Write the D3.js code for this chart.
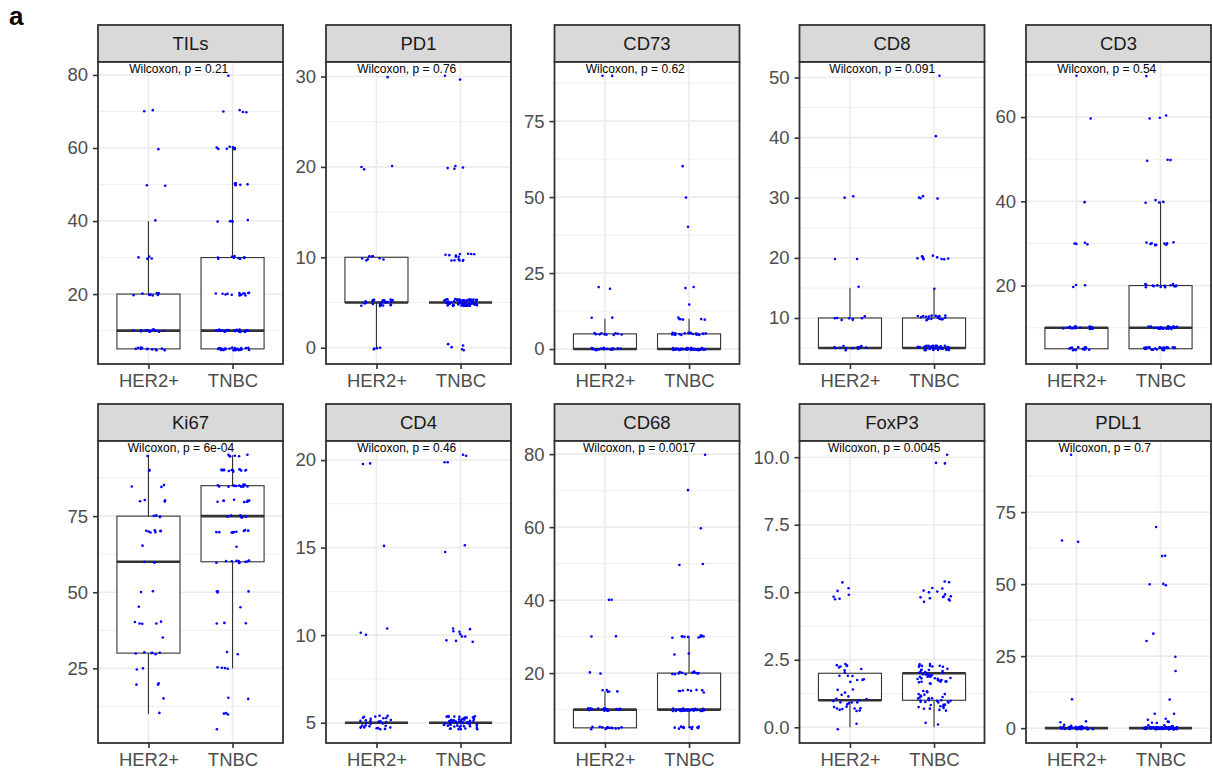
<!DOCTYPE html>
<html>
<head>
<meta charset="utf-8">
<script src="https://cdn.jsdelivr.net/npm/d3@7"></script>
<style>
  body { margin: 0; background: #fff; }
  svg { display: block; font-family: "Liberation Sans", Arial, sans-serif; }
</style>
</head>
<body>
<script>
var markers = ['TILs', 'PD1', 'CD73', 'CD8', 'CD3', 'Ki67', 'CD4', 'CD68', 'FoxP3', 'PDL1'];
var groups = ['HER2+', 'TNBC'];
var pValues = ['0.21', '0.76', '0.62', '0.091', '0.54', '6e-04', '0.46', '0.0017', '0.0045', '0.7'];

// each row: [score, number of HER2+ cases, number of TNBC cases]
var countsTILs = [[5, 12, 28], [10, 12, 26], [20, 8, 14], [30, 4, 9], [40, 1, 5], [50, 2, 6], [60, 1, 7], [70, 2, 4], [80, 0, 1]];
var countsPD1 = [[0, 4, 5], [5, 25, 70], [10, 8, 15], [20, 3, 4], [30, 1, 2]];
var countsCD73 = [[0, 17, 36], [5, 10, 22], [10, 2, 6], [15, 0, 1], [20, 2, 2], [40, 0, 1], [50, 0, 1], [60, 0, 1], [90, 2, 0]];
var countsCD8 = [[5, 15, 38], [10, 8, 20], [15, 1, 1], [20, 2, 10], [30, 2, 4], [40, 0, 1], [50, 0, 1]];
var countsCD3 = [[5, 14, 25], [10, 18, 25], [20, 3, 14], [30, 4, 10], [40, 1, 4], [50, 0, 3], [60, 1, 3], [70, 1, 1]];
var countsKi67 = [[5, 0, 1], [10, 1, 3], [15, 1, 2], [20, 3, 0], [25, 2, 4], [30, 6, 2], [35, 1, 0], [40, 5, 3], [45, 1, 1],
  [50, 2, 4], [60, 3, 10], [65, 1, 1], [70, 7, 10], [75, 4, 8], [80, 4, 9], [85, 3, 12], [90, 2, 13], [95, 1, 6]];
var countsCD4 = [[5, 30, 55], [10, 3, 10], [15, 1, 2], [20, 2, 4]];
var countsCD68 = [[5, 14, 12], [10, 20, 28], [15, 5, 8], [20, 2, 12], [25, 0, 2], [30, 2, 10], [40, 2, 0], [50, 0, 2], [60, 0, 1], [70, 0, 1], [80, 0, 1]];
var countsFoxP3 = [[0, 2, 2], [1, 23, 35], [2, 16, 45], [5, 7, 16], [10, 0, 3]];
var countsPDL1 = [[0, 30, 72], [1, 3, 4], [2, 2, 4], [3, 0, 2], [5, 0, 2], [10, 1, 1], [20, 0, 1], [25, 0, 1], [30, 0, 1], [33, 0, 1],
  [50, 0, 3], [60, 0, 2], [65, 2, 0], [70, 0, 1], [95, 1, 0]];

var countTables = [countsTILs, countsPD1, countsCD73, countsCD8, countsCD3, countsKi67, countsCD4, countsCD68, countsFoxP3, countsPDL1];

var yTicks = [[20, 40, 60, 80], [0, 10, 20, 30], [0, 25, 50, 75], [10, 20, 30, 40, 50], [20, 40, 60],
  [25, 50, 75], [5, 10, 15, 20], [20, 40, 60, 80], [0, 2.5, 5, 7.5, 10], [0, 25, 50, 75]];

var svgWidth = 1213;
var svgHeight = 772;
var colLeft = [98, 326, 554.5, 799.5, 1026];
var rowTop = [25, 404];
var stripH = 37;
var panelW = 185;
var panelH = 302;

var svg = d3.select('body')
  .append('svg')
  .attr('width', svgWidth)
  .attr('height', svgHeight);

svg.append('text')
  .attr('x', 9)
  .attr('y', 25)
  .attr('font-size', '26px')
  .attr('font-weight', 'bold')
  .attr('fill', '#000')
  .text('a');

// seeded jitter, like geom_jitter(width = 0.2, height = 0.4)
var rng = d3.randomLcg(0.271828);

var x = d3.scalePoint().domain(groups).range([0, panelW]).padding(0.6);
var step = x.step();

markers.forEach(function(name, i) {
  var col = i % 5;
  var row = Math.floor(i / 5);

  var points = [];
  countTables[i].forEach(function(r) {
    groups.forEach(function(grp, k) {
      for (var n = 0; n < r[k + 1]; n++) {
        points.push({ group: grp, value: r[0], dx: (rng() * 2 - 1) * 0.2, dy: (rng() * 2 - 1) * 0.4 });
      }
    });
  });

  var lo = d3.min(points, function(p) { return p.value + p.dy; });
  var hi = d3.max(points, function(p) { return p.value + p.dy; });
  var pad = (hi - lo) * 0.05;
  var y = d3.scaleLinear().domain([lo - pad, hi + pad]).range([panelH, 0]);

  var ticks = yTicks[i];
  var tstep = ticks[1] - ticks[0];
  var minor = [];
  for (var v = ticks[0] - tstep / 2; v <= ticks[ticks.length - 1] + tstep; v += tstep) {
    if (v > lo - pad && v < hi + pad) minor.push(v);
  }

  var g = svg.append('g')
    .attr('transform', 'translate(' + colLeft[col] + ',' + rowTop[row] + ')');

  g.append('rect')
    .attr('width', panelW)
    .attr('height', stripH)
    .attr('fill', '#d9d9d9')
    .attr('stroke', '#333333')
    .attr('stroke-width', 1.8);

  g.append('text')
    .attr('x', panelW / 2)
    .attr('y', stripH / 2)
    .attr('dy', '0.35em')
    .attr('text-anchor', 'middle')
    .attr('font-size', '18.5px')
    .attr('fill', '#1a1a1a')
    .text(name);

  var p = g.append('g').attr('transform', 'translate(0,' + stripH + ')');

  p.append('rect').attr('width', panelW).attr('height', panelH).attr('fill', '#fff');

  p.selectAll('.minor')
    .data(minor)
    .enter()
    .append('line')
    .attr('x1', 0).attr('x2', panelW)
    .attr('y1', function(d) { return y(d); })
    .attr('y2', function(d) { return y(d); })
    .attr('stroke', '#ebebeb')
    .attr('stroke-width', 0.8);

  p.selectAll('.major')
    .data(ticks)
    .enter()
    .append('line')
    .attr('x1', 0).attr('x2', panelW)
    .attr('y1', function(d) { return y(d); })
    .attr('y2', function(d) { return y(d); })
    .attr('stroke', '#ebebeb')
    .attr('stroke-width', 1.6);

  p.selectAll('.vgrid')
    .data(groups)
    .enter()
    .append('line')
    .attr('x1', function(d) { return x(d); })
    .attr('x2', function(d) { return x(d); })
    .attr('y1', 0).attr('y2', panelH)
    .attr('stroke', '#ebebeb')
    .attr('stroke-width', 1.6);

  // boxplots
  groups.forEach(function(grp) {
    var vals = points.filter(function(q) { return q.group === grp; })
      .map(function(q) { return q.value; })
      .sort(d3.ascending);
    var q1 = d3.quantile(vals, 0.25);
    var med = d3.quantile(vals, 0.5);
    var q3 = d3.quantile(vals, 0.75);
    var iqr = q3 - q1;
    var wLo = d3.min(vals.filter(function(v) { return v >= q1 - 1.5 * iqr; }));
    var wHi = d3.max(vals.filter(function(v) { return v <= q3 + 1.5 * iqr; }));
    var cx = x(grp);
    var bw = step * 0.75;

    p.append('line')
      .attr('x1', cx).attr('x2', cx)
      .attr('y1', y(q3)).attr('y2', y(wHi))
      .attr('stroke', '#333333').attr('stroke-width', 1.1);
    p.append('line')
      .attr('x1', cx).attr('x2', cx)
      .attr('y1', y(q1)).attr('y2', y(wLo))
      .attr('stroke', '#333333').attr('stroke-width', 1.1);
    p.append('rect')
      .attr('x', cx - bw / 2)
      .attr('y', y(q3))
      .attr('width', bw)
      .attr('height', y(q1) - y(q3))
      .attr('fill', '#fff')
      .attr('stroke', '#333333')
      .attr('stroke-width', 1.1);
    p.append('line')
      .attr('x1', cx - bw / 2).attr('x2', cx + bw / 2)
      .attr('y1', y(med)).attr('y2', y(med))
      .attr('stroke', '#333333').attr('stroke-width', 2.6);
  });

  p.selectAll('.pt')
    .data(points)
    .enter()
    .append('circle')
    .attr('cx', function(d) { return x(d.group) + d.dx * step; })
    .attr('cy', function(d) { return y(d.value + d.dy); })
    .attr('r', 1.3)
    .attr('fill', '#0000ff');

  var lab = p.append('text')
    .attr('x', 51)
    .attr('y', 11)
    .attr('font-size', '12px')
    .attr('fill', '#000')
    .text('Wilcoxon, p = ' + pValues[i]);
  lab.attr('x', 51 - 0.2 * lab.node().getComputedTextLength());

  p.append('rect')
    .attr('width', panelW)
    .attr('height', panelH)
    .attr('fill', 'none')
    .attr('stroke', '#333333')
    .attr('stroke-width', 1.8);

  var fmt = name === 'FoxP3' ? d3.format('.1f') : d3.format('d');

  var yAxis = p.append('g')
    .call(d3.axisLeft(y).tickValues(ticks).tickFormat(fmt).tickSize(5).tickPadding(5));
  var xAxis = p.append('g')
    .attr('transform', 'translate(0,' + panelH + ')')
    .call(d3.axisBottom(x).tickSize(5).tickPadding(5));

  [yAxis, xAxis].forEach(function(a) {
    a.select('.domain').remove();
    a.selectAll('line').attr('stroke', '#333333').attr('stroke-width', 1.6);
    a.selectAll('text')
      .attr('fill', '#4d4d4d')
      .attr('font-size', '18.5px')
      .attr('font-family', '"Liberation Sans", Arial, sans-serif');
  });
});
</script>
</body>
</html>
